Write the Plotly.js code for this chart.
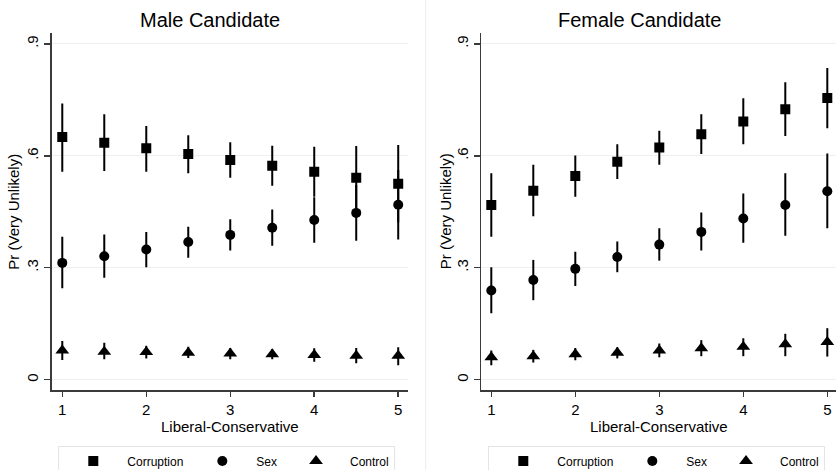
<!DOCTYPE html>
<html>
<head>
<meta charset="utf-8">
<script src="https://cdn.plot.ly/plotly-3.0.1.min.js"></script>
<style>html,body{margin:0;padding:0;background:#fff;overflow:hidden;}#chart{width:836px;height:484px;}</style>
</head>
<body>
<div id="chart"></div>
<script>
// ---- data ----
var xs = [1, 1.5, 2, 2.5, 3, 3.5, 4, 4.5, 5];
var seriesNames = ["Corruption", "Sex", "Control"];
var panelTitles = ["Male Candidate", "Female Candidate"];
var xTitle = "Liberal-Conservative";
var yTitle = "Pr (Very Unlikely)";
var yTickVals = [0, 0.3, 0.6, 0.9];
var yTickText = ["0", ".3", ".6", ".9"];
var xTickVals = [1, 2, 3, 4, 5];
var xTickText = ["1", "2", "3", "4", "5"];

var maleCorr   = [0.650, 0.635, 0.620, 0.605, 0.589, 0.573, 0.557, 0.541, 0.525];
var maleCorrLo = [0.557, 0.559, 0.557, 0.553, 0.541, 0.520, 0.490, 0.456, 0.421];
var maleCorrHi = [0.740, 0.711, 0.680, 0.655, 0.636, 0.627, 0.624, 0.626, 0.629];
var maleSex    = [0.313, 0.331, 0.349, 0.369, 0.388, 0.407, 0.428, 0.447, 0.469];
var maleSexLo  = [0.245, 0.273, 0.301, 0.327, 0.346, 0.359, 0.367, 0.372, 0.376];
var maleSexHi  = [0.383, 0.389, 0.396, 0.410, 0.430, 0.456, 0.489, 0.522, 0.562];
var maleCtl    = [0.078, 0.075, 0.074, 0.072, 0.070, 0.068, 0.066, 0.064, 0.064];
var maleCtlLo  = [0.053, 0.055, 0.057, 0.058, 0.055, 0.055, 0.048, 0.044, 0.039];
var maleCtlHi  = [0.104, 0.099, 0.091, 0.088, 0.085, 0.082, 0.084, 0.085, 0.087];

var femCorr    = [0.468, 0.506, 0.546, 0.584, 0.622, 0.658, 0.692, 0.725, 0.755];
var femCorrLo  = [0.383, 0.438, 0.490, 0.538, 0.576, 0.605, 0.631, 0.653, 0.674];
var femCorrHi  = [0.553, 0.576, 0.601, 0.631, 0.667, 0.711, 0.754, 0.797, 0.835];
var femSex     = [0.239, 0.267, 0.297, 0.329, 0.362, 0.396, 0.432, 0.468, 0.505];
var femSexLo   = [0.178, 0.213, 0.251, 0.288, 0.319, 0.346, 0.367, 0.386, 0.406];
var femSexHi   = [0.301, 0.321, 0.343, 0.370, 0.406, 0.448, 0.499, 0.553, 0.606];
var femCtl     = [0.060, 0.063, 0.068, 0.072, 0.078, 0.084, 0.088, 0.095, 0.101];
var femCtlLo   = [0.039, 0.046, 0.052, 0.057, 0.060, 0.063, 0.063, 0.063, 0.062];
var femCtlHi   = [0.078, 0.080, 0.085, 0.087, 0.097, 0.106, 0.111, 0.123, 0.138];

// ---- build ----
var FONT = "Liberation Sans, Arial, Helvetica, sans-serif";
var symbols = ["square", "circle", "triangle-up"];
var sizes = [10, 10, 12];

function mk(k, y, lo, hi, xa, ya, legend) {
  return {
    type: "scatter", mode: "markers", name: seriesNames[k],
    x: xs, y: y,
    xaxis: xa, yaxis: ya, legend: legend,
    marker: {symbol: symbols[k], size: sizes[k], color: "#000"},
    error_y: {
      type: "data", symmetric: false,
      array: y.map(function (v, i) { return hi[i] - v; }),
      arrayminus: y.map(function (v, i) { return v - lo[i]; }),
      color: "#000", thickness: 2, width: 0
    },
    hoverinfo: "x+y"
  };
}

var data = [
  mk(0, maleCorr, maleCorrLo, maleCorrHi, "x", "y", "legend"),
  mk(1, maleSex, maleSexLo, maleSexHi, "x", "y", "legend"),
  mk(2, maleCtl, maleCtlLo, maleCtlHi, "x", "y", "legend"),
  mk(0, femCorr, femCorrLo, femCorrHi, "x2", "y2", "legend2"),
  mk(1, femSex, femSexLo, femSexHi, "x2", "y2", "legend2"),
  mk(2, femCtl, femCtlLo, femCtlHi, "x2", "y2", "legend2")
];

// layout is slightly taller than the 470px view so the legend box can run off the bottom edge
var W = 836, H = 484;
function px(x) { return x / W; }
function py(y) { return (H - y) / H; }

function xaxis(domain, range, anchor) {
  return {
    domain: domain, range: range, anchor: anchor,
    tickmode: "array", tickvals: xTickVals, ticktext: xTickText,
    ticks: "outside", ticklen: 5, tickwidth: 1.5, tickcolor: "#3a3a3a",
    showline: true, linecolor: "#3a3a3a", linewidth: 1.5,
    showgrid: false, zeroline: false,
    tickfont: {family: FONT, size: 15, color: "#000"},
    fixedrange: true
  };
}
function yaxis(domain, anchor) {
  return {
    domain: domain, range: [-0.0276, 0.929], anchor: anchor,
    tickmode: "array", tickvals: yTickVals, ticktext: yTickText,
    tickangle: -90,
    ticks: "outside", ticklen: 6, tickwidth: 1.5, tickcolor: "#3a3a3a",
    showline: true, linecolor: "#3a3a3a", linewidth: 1.5,
    showgrid: true, gridcolor: "#efefef", gridwidth: 1, zeroline: false,
    tickfont: {family: FONT, size: 15, color: "#000"},
    fixedrange: true
  };
}

function legendCfg(x) {
  return {
    orientation: "h", x: x, y: py(445.5), xanchor: "left", yanchor: "top",
    bordercolor: "#e4e4e4", borderwidth: 1, bgcolor: "#fff",
    font: {family: FONT, size: 12, color: "#000"}, itemwidth: 58
  };
}

var yDom = [py(390), py(33)];
var layout = {
  width: W, height: H,
  margin: {l: 0, r: 0, t: 0, b: 0},
  paper_bgcolor: "#fff", plot_bgcolor: "#fff",
  font: {family: FONT, color: "#000"},
  xaxis: xaxis([px(51.7), px(408.3)], [0.874, 5.12], "y"),
  yaxis: yaxis(yDom, "x"),
  xaxis2: xaxis([px(481.3), 1.0], [0.881, 5.1036], "y2"),
  yaxis2: yaxis(yDom, "x2"),
  showlegend: true,
  legend: legendCfg(px(58.3)),
  legend2: legendCfg(px(488.3)),
  shapes: [
    {type: "line", xref: "paper", yref: "paper", x0: px(425.7), x1: px(425.7), y0: 0, y1: 1,
     line: {color: "#ececec", width: 1}}
  ],
  annotations: [
    {text: panelTitles[0], xref: "paper", yref: "paper", x: px(210), y: py(19.5),
     xanchor: "center", yanchor: "middle", showarrow: false, font: {family: FONT, size: 20, color: "#000"}},
    {text: panelTitles[1], xref: "paper", yref: "paper", x: px(639.7), y: py(19.5),
     xanchor: "center", yanchor: "middle", showarrow: false, font: {family: FONT, size: 20, color: "#000"}},
    {text: xTitle, xref: "paper", yref: "paper", x: px(230), y: py(426.7),
     xanchor: "center", yanchor: "middle", showarrow: false, font: {family: FONT, size: 15, color: "#000"}},
    {text: xTitle, xref: "paper", yref: "paper", x: px(658.8), y: py(426.7),
     xanchor: "center", yanchor: "middle", showarrow: false, font: {family: FONT, size: 15, color: "#000"}},
    {text: yTitle, xref: "paper", yref: "paper", x: px(14), y: py(211.7), textangle: -90,
     xanchor: "center", yanchor: "middle", showarrow: false, font: {family: FONT, size: 15, color: "#000"}},
    {text: yTitle, xref: "paper", yref: "paper", x: px(445.5), y: py(211.7), textangle: -90,
     xanchor: "center", yanchor: "middle", showarrow: false, font: {family: FONT, size: 15, color: "#000"}}
  ]
};

Plotly.newPlot("chart", data, layout, {staticPlot: true, displayModeBar: false});
</script>
</body>
</html>
